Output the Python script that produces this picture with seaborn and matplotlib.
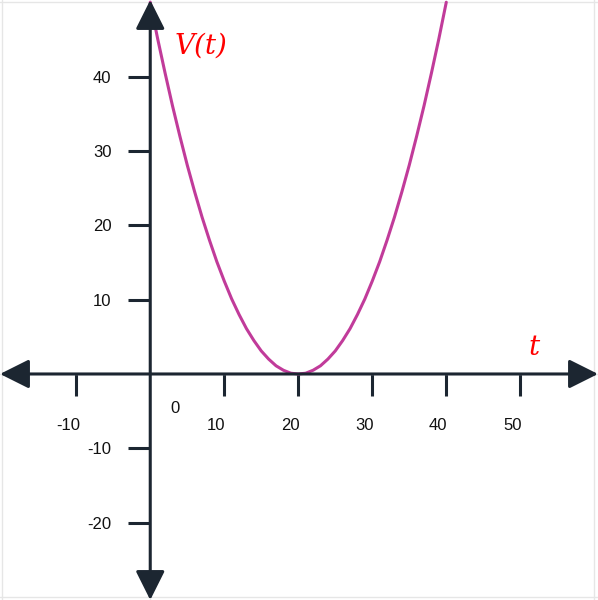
import numpy as np
import pandas as pd
import seaborn as sns
import matplotlib.pyplot as plt
from matplotlib.patches import ArrowStyle
from matplotlib.transforms import ScaledTranslation

# values
t_vals = [0, 1, 2, 3, 4, 5, 6, 7, 8, 9, 10, 11, 12, 13, 14, 15, 16, 17, 18, 19, 20,
          21, 22, 23, 24, 25, 26, 27, 28, 29, 30, 31, 32, 33, 34, 35, 36, 37, 38, 39, 40]
v_vals = [50.0, 45.1, 40.5, 36.1, 32.0, 28.1, 24.5, 21.1, 18.0, 15.1, 12.5, 10.1, 8.0, 6.1,
          4.5, 3.1, 2.0, 1.1, 0.5, 0.1, 0.0, 0.1, 0.5, 1.1, 2.0, 3.1, 4.5, 6.1, 8.0, 10.1,
          12.5, 15.1, 18.0, 21.1, 24.5, 28.1, 32.0, 36.1, 40.5, 45.1, 50.0]

x_ticks = [-10, 10, 20, 30, 40, 50]
y_ticks = [-20, -10, 10, 20, 30, 40]
grid_x = [-20, -10, 0, 10, 20, 30, 40, 50, 60]
grid_y = [-30, -20, -10, 0, 10, 20, 30, 40, 50]

axis_color = '#1c2631'
curve_color = '#c13b9a'
label_color = '#ff0000'

sns.set_style('white')
plt.rcParams['font.family'] = ['Liberation Sans', 'DejaVu Sans']

df = pd.DataFrame({'t': t_vals, 'V': v_vals})

fig = plt.figure(figsize=(5.98, 6.0), dpi=100)
ax = fig.add_axes([0, 0, 1, 1])
ax.set_xlim(-20.3, 60.5)
ax.set_ylim(-30.4, 50.3)

# grid on minor ticks
ax.set_xticks(grid_x, minor=True)
ax.set_yticks(grid_y, minor=True)
ax.grid(which='minor', color='#e6e6e6', linewidth=1.0)
ax.set_axisbelow(True)

sns.lineplot(data=df, x='t', y='V', ax=ax, color=curve_color, linewidth=2.2,
             zorder=3, sort=False)

# axes through the origin
for side in ['top', 'right']:
    ax.spines[side].set_visible(False)
ax.spines['left'].set_position(('data', 0))
ax.spines['bottom'].set_position(('data', 0))
ax.spines['left'].set_visible(False)
ax.spines['bottom'].set_visible(False)

style = ArrowStyle('<|-|>', head_length=1.0, head_width=0.5)
ax.annotate('', xy=(1, 0), xytext=(0, 0), xycoords=('axes fraction', 'data'),
            arrowprops=dict(arrowstyle=style, color=axis_color, lw=2.2,
                            mutation_scale=18, shrinkA=0, shrinkB=0), zorder=4)
ax.annotate('', xy=(0, 1), xytext=(0, 0), xycoords=('data', 'axes fraction'),
            arrowprops=dict(arrowstyle=style, color=axis_color, lw=2.2,
                            mutation_scale=18, shrinkA=0, shrinkB=0), zorder=4)

ax.set_xticks(x_ticks)
ax.set_yticks(y_ticks)
ax.set_xticklabels([str(v) for v in x_ticks])
ax.set_yticklabels([str(v) for v in y_ticks])
ax.tick_params(which='major', bottom=True, left=True, direction='out', length=16,
               width=2.2, color=axis_color, labelsize=12, labelcolor='#111111')
ax.tick_params(axis='x', which='major', pad=16)
ax.tick_params(axis='y', which='major', pad=12)
ax.tick_params(which='minor', length=0)
ax.set_xlabel('')
ax.set_ylabel('')

offset = ScaledTranslation(-8 / 100, 0, fig.dpi_scale_trans)
for lbl in ax.get_xticklabels():
    lbl.set_transform(lbl.get_transform() + offset)

ax.text(3.4, -4.6, '0', fontsize=12, color='#111111', ha='center', va='center')
ax.text(6.8, 44.1, 'V(t)', fontsize=20, color=label_color, family='DejaVu Serif',
        style='italic', ha='center', va='center')
ax.text(51.8, 3.6, 't', fontsize=20, color=label_color, family='DejaVu Serif',
        style='italic', ha='center', va='center')

fig.savefig('out.png', dpi=100)
